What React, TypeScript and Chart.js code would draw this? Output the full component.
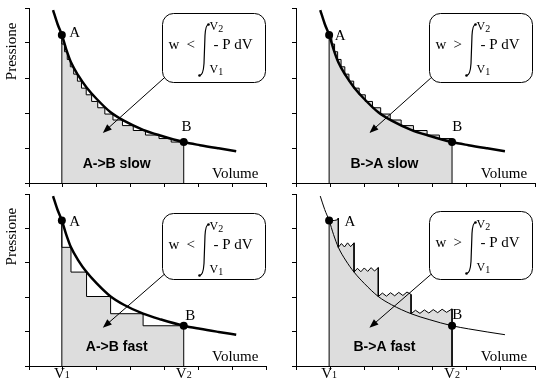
import React, { useEffect, useRef } from "react";
import { Chart, registerables } from "chart.js";
Chart.register(...registerables);

// ---------------- data (axis units) ----------------
const volumeTickValues = [0, 1, 2, 3, 4, 5, 6, 7];
const pressureTickValues = [0, 1, 2, 3, 4, 5];

// isotherm P(V)
const isothermV = [0.71, 0.84, 0.97, 1.1, 1.24, 1.45, 1.7, 2.0, 2.41, 2.8, 3.37, 3.9, 4.57, 5.05, 5.6, 6.12];
const isothermP = [4.94, 4.55, 4.23, 3.82, 3.45, 3.08, 2.73, 2.4, 2.02, 1.78, 1.52, 1.35, 1.17, 1.08, 0.99, 0.91];

// states A and B
const stateNames = ["A", "B"];
const stateV = [0.97, 4.57];
const stateP = [4.23, 1.17];
const boundarySubscripts = ["1", "2"];

// many small steps (slow processes)
const slowStepV = [0.97, 1.05, 1.13, 1.22, 1.32, 1.43, 1.55, 1.69, 1.85, 2.03, 2.24, 2.48, 2.76, 3.08, 3.44, 3.84, 4.2, 4.57];
const slowStepP = [4.23, 3.97, 3.75, 3.53, 3.32, 3.11, 2.91, 2.71, 2.52, 2.33, 2.15, 1.97, 1.8, 1.64, 1.5, 1.37, 1.27, 1.17];

// few large steps (fast expansion)
const fastStepV = [0.97, 1.24, 1.7, 2.41, 3.37, 4.57];
const fastStepP = [4.23, 3.45, 2.73, 2.02, 1.52, 1.17];

// fast compression path (jagged plateaus)
const fastCompV = [0.97, 1.12, 1.21, 1.24, 1.24, 1.33, 1.42, 1.51, 1.6, 1.7, 1.7, 1.8, 1.9, 2.0, 2.1, 2.2, 2.3, 2.41, 2.41, 2.53, 2.65, 2.77, 2.89, 3.01, 3.13, 3.25, 3.37, 3.37, 3.5, 3.63, 3.76, 3.89, 4.02, 4.15, 4.28, 4.41, 4.57, 4.57];
const fastCompP = [4.23, 4.23, 4.25, 4.3, 3.45, 3.56, 3.46, 3.58, 3.47, 3.58, 2.73, 2.84, 2.74, 2.85, 2.75, 2.86, 2.76, 2.86, 2.02, 2.12, 2.03, 2.13, 2.04, 2.14, 2.05, 2.15, 2.08, 1.52, 1.62, 1.53, 1.63, 1.54, 1.64, 1.55, 1.65, 1.56, 1.66, 1.17];

const panelTitles = ["A->B slow", "B->A slow", "A->B fast", "B->A fast"];
const panelSigns = ["<", ">", "<", ">"];
const yAxisTitle = "Pressione";
const xAxisTitle = "Volume";

// ---------------- layout ----------------
const SERIF = '"Liberation Serif", "Times New Roman", serif';
const SANS = '"Liberation Sans", Arial, sans-serif';

const panels = [
  { id: "tl", idx: 0, left: 0, top: 0, width: 270, height: 190, pad: { left: 25, right: 3, top: 8, bottom: 3 },
    process: "slowExp", curveWidth: 2.5, pressione: true, vLabels: false,
    box: [3.94, 4.86, 6.97, 2.89], arrow: [3.99, 3.0, 2.18, 1.43], labelA: [1.35, 4.29], labelB: [4.65, 1.6] },
  { id: "tr", idx: 1, left: 270, top: 0, width: 269, height: 190, pad: { left: 22, right: 4, top: 8, bottom: 3 },
    process: "slowComp", curveWidth: 2.5, pressione: false, vLabels: false,
    box: [3.9, 4.86, 6.92, 2.89], arrow: [3.95, 3.0, 2.15, 1.43], labelA: [1.29, 4.2], labelB: [4.72, 1.6] },
  { id: "bl", idx: 2, left: 0, top: 190, width: 270, height: 198, pad: { left: 25, right: 3, top: 3, bottom: 18 },
    process: "fastExp", curveWidth: 2.5, pressione: true, vLabels: true,
    box: [3.94, 4.46, 6.97, 2.54], arrow: [3.99, 2.66, 2.18, 1.11], labelA: [1.35, 4.17], labelB: [4.76, 1.46] },
  { id: "br", idx: 3, left: 270, top: 190, width: 269, height: 198, pad: { left: 22, right: 4, top: 3, bottom: 18 },
    process: "fastComp", curveWidth: 1, pressione: false, vLabels: true,
    box: [3.9, 4.51, 6.92, 2.54], arrow: [3.95, 2.66, 2.15, 1.11], labelA: [1.58, 4.17], labelB: [4.72, 1.49] },
];

function pts(xs: number[], ys: number[]) {
  return xs.map((v, i) => ({ x: v, y: ys[i] }));
}

function buildDatasets(p: any) {
  let path: any[];
  let stepped: any = false;
  if (p.process === "slowExp") { path = pts(slowStepV, slowStepP); stepped = "after"; }
  else if (p.process === "slowComp") { path = pts(slowStepV, slowStepP); stepped = "before"; }
  else if (p.process === "fastExp") { path = pts(fastStepV, fastStepP); stepped = "after"; }
  else { path = pts(fastCompV, fastCompP); stepped = false; }
  const area = [{ x: stateV[0], y: 0 }, ...path, { x: stateV[1], y: 0 }];
  return [
    { data: pts(stateV, stateP), showLine: false, pointRadius: 4, pointBackgroundColor: "#000", pointBorderColor: "#000", pointBorderWidth: 0, order: 0 },
    { data: pts(isothermV, isothermP), borderColor: "#000", borderWidth: p.curveWidth, pointRadius: 0, fill: false, cubicInterpolationMode: "monotone", order: 1 },
    { data: area, borderColor: "#000", borderWidth: 1, pointRadius: 0, fill: "origin", backgroundColor: "#dddddd", stepped, tension: 0, order: 2 },
  ];
}

function textSub(ctx: CanvasRenderingContext2D, x: number, y: number, main: string, sub: string, size: number, subSize: number, center: boolean, subDrop: number) {
  ctx.font = `${size}px ${SERIF}`;
  const w1 = ctx.measureText(main).width;
  ctx.font = `${subSize}px ${SERIF}`;
  const w2 = ctx.measureText(sub).width;
  const x0 = center ? x - (w1 + w2) / 2 : x;
  ctx.textAlign = "left";
  ctx.textBaseline = "alphabetic";
  ctx.font = `${size}px ${SERIF}`;
  ctx.fillText(main, x0, y);
  ctx.font = `${subSize}px ${SERIF}`;
  ctx.fillText(sub, x0 + w1, y + subDrop);
}

function makePlugin(p: any) {
  return {
    id: "annot-" + p.id,
    afterDatasetsDraw(chart: any) {
      const ctx: CanvasRenderingContext2D = chart.ctx;
      const xs = chart.scales.x, ys = chart.scales.y;
      const X = (v: number) => xs.getPixelForValue(v);
      const Y = (v: number) => ys.getPixelForValue(v);
      const ca = chart.chartArea;
      ctx.save();
      ctx.fillStyle = "#000";
      ctx.strokeStyle = "#000";

      // arrow
      const ax0 = X(p.arrow[0]), ay0 = Y(p.arrow[1]), ax1 = X(p.arrow[2]), ay1 = Y(p.arrow[3]);
      const ang = Math.atan2(ay1 - ay0, ax1 - ax0);
      const hl = 9, hw = 3.5;
      ctx.lineWidth = 1;
      ctx.beginPath();
      ctx.moveTo(ax0, ay0);
      ctx.lineTo(ax1 - Math.cos(ang) * hl * 0.8, ay1 - Math.sin(ang) * hl * 0.8);
      ctx.stroke();
      ctx.beginPath();
      ctx.moveTo(ax1, ay1);
      ctx.lineTo(ax1 - Math.cos(ang) * hl - Math.sin(ang) * hw, ay1 - Math.sin(ang) * hl + Math.cos(ang) * hw);
      ctx.lineTo(ax1 - Math.cos(ang) * hl + Math.sin(ang) * hw, ay1 - Math.sin(ang) * hl - Math.cos(ang) * hw);
      ctx.closePath();
      ctx.fill();

      // box
      const bx = Math.round(X(p.box[0])) + 0.5, by = Math.round(Y(p.box[1])) + 0.5;
      const bw = Math.round(X(p.box[2]) - X(p.box[0])), bh = Math.round(Y(p.box[3]) - Y(p.box[1]));
      ctx.beginPath();
      (ctx as any).roundRect(bx, by, bw, bh, 11);
      ctx.fillStyle = "#fff";
      ctx.fill();
      ctx.lineWidth = 1;
      ctx.stroke();
      ctx.fillStyle = "#000";

      // formula
      ctx.textAlign = "left";
      ctx.textBaseline = "alphabetic";
      ctx.font = `15px ${SERIF}`;
      ctx.fillText("w", bx + 6, by + 35);
      ctx.fillText(panelSigns[p.idx], bx + 24, by + 35);
      ctx.fillText("- P dV", bx + 51, by + 35);
      // integral sign
      ctx.lineWidth = 1.2;
      ctx.beginPath();
      ctx.moveTo(bx + 37, by + 62);
      ctx.bezierCurveTo(bx + 40, by + 62, bx + 41, by + 58, bx + 41.5, by + 50);
      ctx.lineTo(bx + 42.5, by + 22);
      ctx.bezierCurveTo(bx + 43, by + 14, bx + 44, by + 11, bx + 46, by + 11);
      ctx.stroke();
      ctx.beginPath(); ctx.arc(bx + 37, by + 62, 1.3, 0, Math.PI * 2); ctx.fill();
      ctx.beginPath(); ctx.arc(bx + 46, by + 11, 1.3, 0, Math.PI * 2); ctx.fill();
      textSub(ctx, bx + 47, by + 16, "V", boundarySubscripts[1], 12, 10, false, 2);
      textSub(ctx, bx + 47, by + 59, "V", boundarySubscripts[0], 12, 10, false, 2);

      // state labels
      ctx.font = `15px ${SERIF}`;
      ctx.textAlign = "center";
      ctx.textBaseline = "middle";
      ctx.fillText(stateNames[0], X(p.labelA[0]), Y(p.labelA[1]));
      ctx.fillText(stateNames[1], X(p.labelB[0]), Y(p.labelB[1]));

      // process title
      ctx.font = `bold 14px ${SANS}`;
      ctx.fillText(panelTitles[p.idx], X(2.59), Y(0.54));

      // axis titles
      ctx.font = `15px ${SERIF}`;
      ctx.fillText(xAxisTitle, X(6.09), Y(0.26));
      if (p.pressione) {
        ctx.save();
        ctx.translate(ca.left - 17, Y(3.76));
        ctx.rotate(-Math.PI / 2);
        ctx.fillText(yAxisTitle, 0, 0);
        ctx.restore();
      }
      if (p.vLabels) {
        stateV.forEach((v, i) => {
          textSub(ctx, X(v), ca.bottom + 12, "V", boundarySubscripts[i], 15, 10, true, 0);
        });
      }
      ctx.restore();
    },
  };
}

function axisOpts(max: number, values: number[], horizontal: boolean) {
  return {
    type: "linear",
    min: 0,
    max,
    z: 1,
    afterBuildTicks: (s: any) => { s.ticks = values.map((v) => ({ value: v })); },
    afterFit: (s: any) => { if (horizontal) s.height = 4; else s.width = 4; },
    ticks: { display: false },
    grid: { drawOnChartArea: false, drawTicks: true, tickLength: 4, color: "#000", lineWidth: 1 },
    border: { display: true, color: "#000", width: 1 },
  };
}

function Panel({ p }: { p: any }) {
  const ref = useRef<HTMLCanvasElement | null>(null);
  useEffect(() => {
    const chart = new Chart(ref.current as HTMLCanvasElement, {
      type: "line",
      data: { datasets: buildDatasets(p) as any },
      options: {
        responsive: false,
        animation: false,
        events: [],
        devicePixelRatio: 1,
        layout: { padding: p.pad },
        plugins: { legend: { display: false }, tooltip: { enabled: false } },
        scales: {
          x: axisOpts(7, volumeTickValues, true) as any,
          y: axisOpts(5, pressureTickValues, false) as any,
        },
      },
      plugins: [makePlugin(p)],
    });
    return () => chart.destroy();
  }, []);
  return (
    <canvas
      ref={ref}
      width={p.width}
      height={p.height}
      style={{ position: "absolute", left: p.left, top: p.top, width: p.width, height: p.height }}
    />
  );
}

export default function App() {
  return (
    <div style={{ position: "absolute", left: 0, top: 0, width: 539, height: 388, background: "#fff", overflow: "hidden" }}>
      {panels.map((p) => (
        <Panel key={p.id} p={p} />
      ))}
    </div>
  );
}
